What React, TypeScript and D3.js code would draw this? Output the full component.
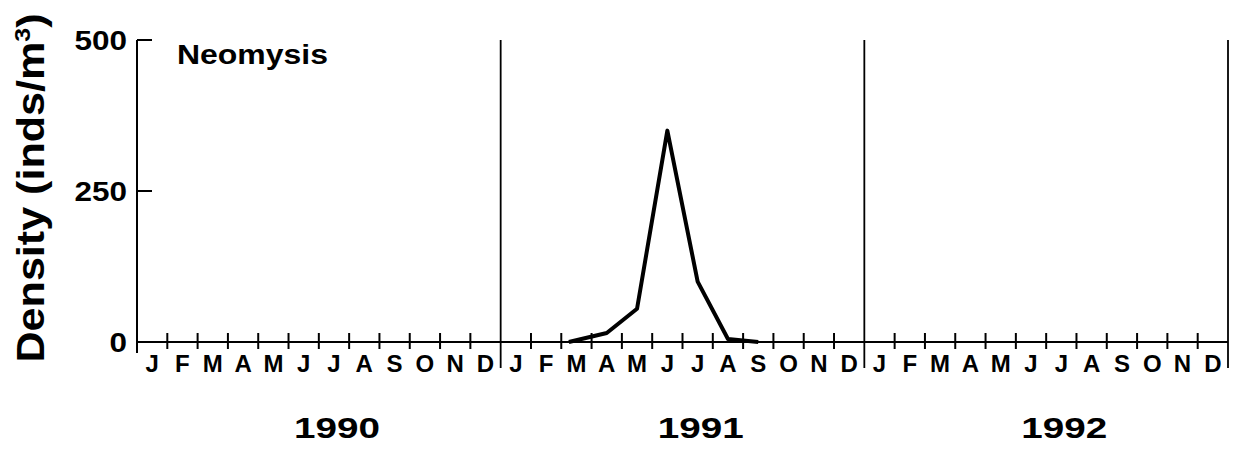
import * as d3 from 'd3';

// axis categories
const years = ['1990', '1991', '1992'];
const monthLabels = ['J', 'F', 'M', 'A', 'M', 'J', 'J', 'A', 'S', 'O', 'N', 'D'];
const yTicks = [0, 250, 500];

// Neomysis density, months counted from 1 Jan 1990
const sampleMonth = [14.25, 15.5, 16.5, 17.5, 18.5, 19.5, 20.5];
const sampleDensity = [0, 15, 55, 350, 100, 5, 0];

const width = 1239;
const height = 455;
const margin = { top: 40, right: 11, bottom: 113, left: 137 };
const font = "'Liberation Sans', Arial, Helvetica, sans-serif";

export default function App() {
  const x = d3
    .scaleLinear()
    .domain([0, years.length * 12])
    .range([margin.left, width - margin.right]);

  const y = d3
    .scaleLinear()
    .domain([0, 500])
    .range([height - margin.bottom, margin.top]);

  const y0 = y(0);
  const points = sampleMonth.map((m, i) => [m, sampleDensity[i]] as [number, number]);
  const line = d3
    .line<[number, number]>()
    .x((d) => x(d[0]))
    .y((d) => y(d[1]));

  const months = d3.range(years.length * 12);

  return (
    <svg
      width={width}
      height={height}
      style={{ position: 'absolute', left: 0, top: 0, background: '#fff' }}
      fontFamily={font}
      fontWeight='bold'
    >
      {/* y axis */}
      <line x1={x(0)} x2={x(0)} y1={y(500)} y2={y0 + 11} stroke='#000' strokeWidth={2} />
      {yTicks.filter((t) => t > 0).map((t) => (
        <line key={t} x1={x(0)} x2={x(0) + 15} y1={y(t)} y2={y(t)} stroke='#000' strokeWidth={2} />
      ))}
      {yTicks.map((t) => (
        <text
          key={'l' + t}
          x={x(0) - 10}
          y={y(t) + 10}
          fontSize={28}
          textAnchor='end'
          textLength={String(t).length * 17.5}
          lengthAdjust='spacingAndGlyphs'
        >
          {t}
        </text>
      ))}
      <text
        transform={`translate(44, 188) rotate(-90)`}
        fontSize={38}
        textAnchor='middle'
        textLength={349}
        lengthAdjust='spacingAndGlyphs'
      >
        Density (inds/m<tspan dy={-14} fontSize={22}>3</tspan>
        <tspan dy={14}>)</tspan>
      </text>

      {/* x axis */}
      <line x1={x(0)} x2={x(36)} y1={y0} y2={y0} stroke='#000' strokeWidth={2} />
      {months.filter((m) => m % 12 !== 0).map((m) => (
        <line key={m} x1={x(m)} x2={x(m)} y1={y0 - 9} y2={y0 + 7} stroke='#000' strokeWidth={2} />
      ))}
      {years.map((yr, i) => (
        <line
          key={'d' + yr}
          x1={x(12 * (i + 1))}
          x2={x(12 * (i + 1))}
          y1={y(500)}
          y2={y0 + 26}
          stroke='#000'
          strokeWidth={1.8}
        />
      ))}
      {months.map((m) => (
        <text key={'m' + m} x={x(m + 0.5)} y={y0 + 30} fontSize={24} textAnchor='middle'>
          {monthLabels[m % 12]}
        </text>
      ))}
      {years.map((yr, i) => (
        <text
          key={yr}
          x={x(12 * i + 6.6)}
          y={438}
          fontSize={30}
          textAnchor='middle'
          textLength={86}
          lengthAdjust='spacingAndGlyphs'
        >
          {yr}
        </text>
      ))}

      <text x={177} y={64} fontSize={28} textLength={151} lengthAdjust='spacingAndGlyphs'>
        Neomysis
      </text>

      <path d={line(points) ?? ''} fill='none' stroke='#000' strokeWidth={4} strokeLinejoin='round' />
    </svg>
  );
}
